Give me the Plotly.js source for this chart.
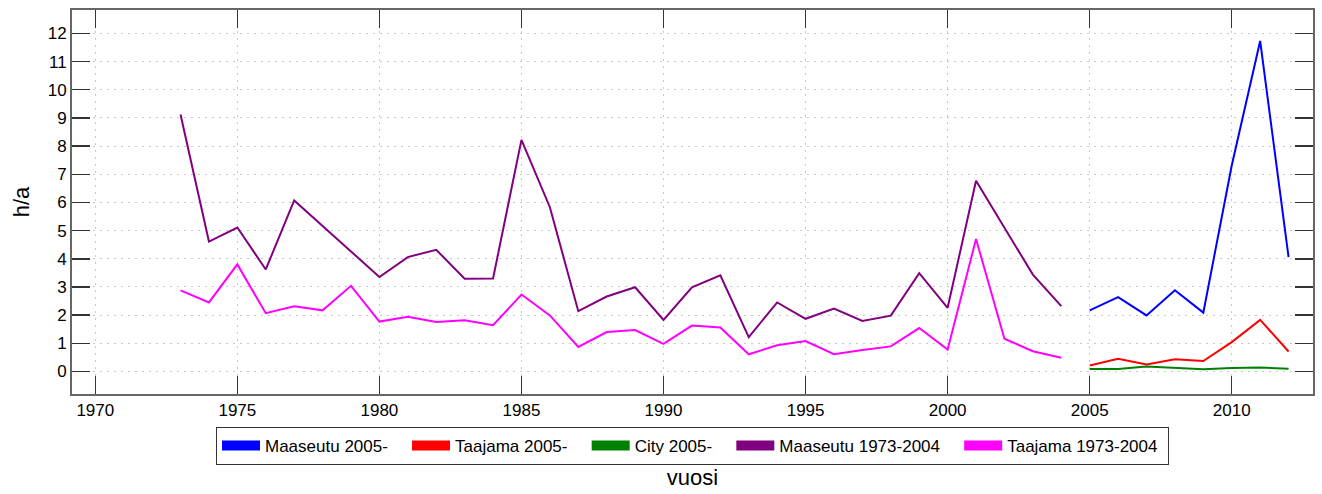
<!DOCTYPE html>
<html>
<head>
<meta charset="utf-8">
<script src="https://cdn.plot.ly/plotly-3.0.1.min.js"></script>
<style>html,body{margin:0;padding:0;background:#fff;}#chart{width:1322px;height:494px;}</style>
</head>
<body>
<div id="chart"></div>
<script>
var yearsOld = [1973,1974,1975,1976,1977,1978,1979,1980,1981,1982,1983,1984,1985,1986,1987,1988,1989,1990,1991,1992,1993,1994,1995,1996,1997,1998,1999,2000,2001,2002,2003,2004];
var maaseutuOld = [9.12,4.61,5.11,3.62,6.07,5.18,4.26,3.35,4.06,4.32,3.29,3.30,8.22,5.83,2.14,2.66,2.99,1.83,2.99,3.41,1.22,2.45,1.87,2.23,1.79,1.98,3.49,2.26,6.77,5.10,3.44,2.32];
var taajamaOld = [2.88,2.45,3.80,2.07,2.31,2.17,3.04,1.77,1.94,1.76,1.82,1.64,2.73,1.99,0.87,1.40,1.47,0.98,1.63,1.56,0.61,0.93,1.08,0.61,0.76,0.89,1.54,0.78,4.70,1.16,0.72,0.49];
var yearsNew = [2005,2006,2007,2008,2009,2010,2011,2012];
var maaseutuNew = [2.17,2.64,1.99,2.88,2.09,7.31,11.73,4.06];
var taajamaNew = [0.21,0.45,0.25,0.43,0.37,1.04,1.83,0.71];
var cityNew = [0.09,0.09,0.18,0.12,0.08,0.12,0.14,0.10];
var seriesNames = ['Maaseutu 2005-','Taajama 2005-','City 2005-','Maaseutu 1973-2004','Taajama 1973-2004'];
var seriesColors = ['#0000ff','#ff0000','#008000','#800080','#ff00ff'];
var xTicks = [1970,1975,1980,1985,1990,1995,2000,2005,2010];
var yTicks = [0,1,2,3,4,5,6,7,8,9,10,11,12];

var xs = [yearsNew, yearsNew, yearsNew, yearsOld, yearsOld];
var ys = [maaseutuNew, taajamaNew, cityNew, maaseutuOld, taajamaOld];
var traces = [];
for (var i = 0; i < 5; i++) {
  traces.push({x: xs[i], y: ys[i], type: 'scatter', mode: 'lines', name: seriesNames[i],
    line: {color: seriesColors[i], width: 2}, showlegend: false, legendgroup: 'g' + i, hoverinfo: 'x+y'});
}
// legend-only entries (thick swatches); trailing no-break spaces widen the gap between entries
for (var j = 0; j < 5; j++) {
  var pad = (j < 4) ? '\u00a0\u00a0\u00a0' : '\u00a0';
  traces.push({x: [null], y: [null], type: 'scatter', mode: 'lines', name: seriesNames[j] + pad,
    line: {color: seriesColors[j], width: 10}, showlegend: true, legendgroup: 'g' + j});
}

var layout = {
  width: 1322, height: 494,
  margin: {l: 72, r: 9, t: 10, b: 100},
  paper_bgcolor: '#fff', plot_bgcolor: '#fff',
  font: {family: 'Liberation Sans, Arial, sans-serif', size: 17, color: '#000'},
  showlegend: true,
  legend: {orientation: 'h', x: 0.5, xanchor: 'center', y: -0.086, yanchor: 'top',
    bordercolor: '#333', borderwidth: 1, font: {size: 17, color: '#000'}, itemwidth: 38,
    traceorder: 'normal', tracegroupgap: 0},
  xaxis: {
    range: [1969.18, 2012.86], tickvals: xTicks, ticktext: xTicks.map(String),
    ticks: 'inside', ticklen: 18, tickwidth: 1.5, tickcolor: '#333',
    showline: true, linecolor: '#666', linewidth: 2, mirror: 'allticks',
    showgrid: true, gridcolor: '#c8c8c8', gridwidth: 1, griddash: '2px,5px',
    zeroline: false, tickfont: {size: 17},
    title: {text: 'vuosi', font: {size: 22}, standoff: 50}
  },
  yaxis: {
    range: [-0.8, 12.83], tickvals: yTicks, ticktext: yTicks.map(String),
    ticks: 'inside', ticklen: 18, tickwidth: 1.5, tickcolor: '#333',
    showline: true, linecolor: '#666', linewidth: 2, mirror: 'allticks',
    showgrid: true, gridcolor: '#c8c8c8', gridwidth: 1, griddash: '2px,5px',
    zeroline: false, tickfont: {size: 17},
    title: {text: 'h/a', font: {size: 22}, standoff: 12}
  }
};
Plotly.newPlot('chart', traces, layout, {displayModeBar: false, staticPlot: true});
</script>
</body>
</html>
